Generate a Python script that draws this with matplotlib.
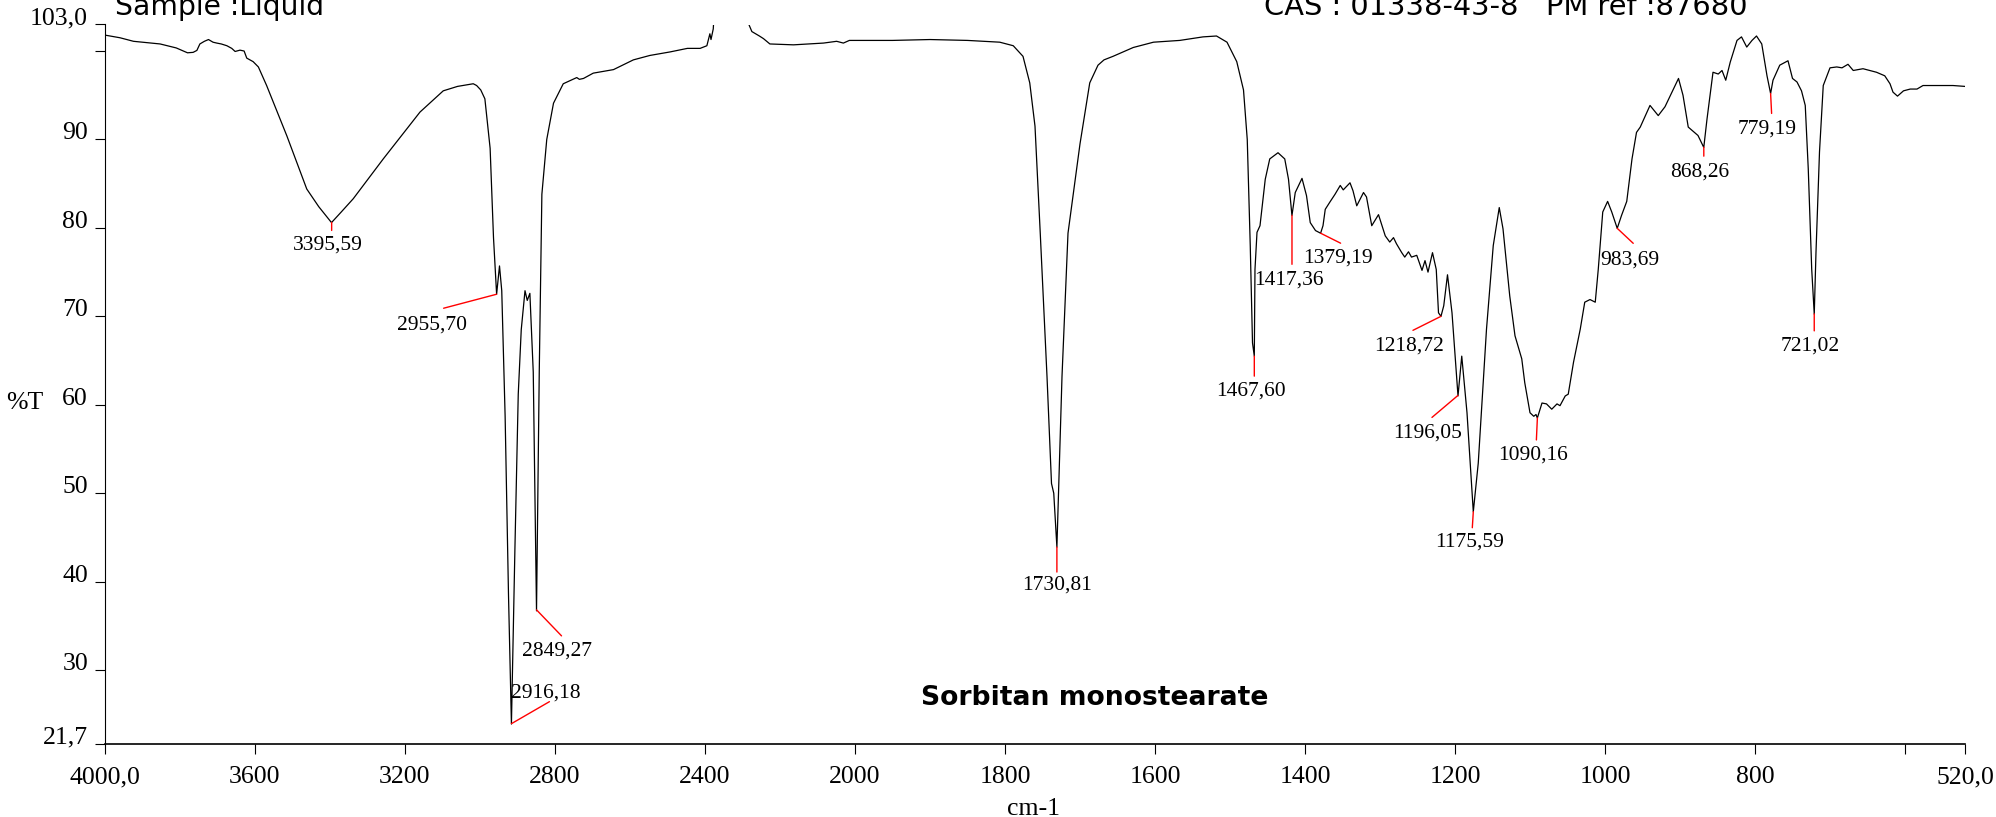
import numpy as np
import matplotlib
matplotlib.use('Agg')
import matplotlib.pyplot as plt

# FTIR spectrum of sorbitan monostearate
wavenumber = [
    4000, 3960, 3924, 3853, 3810, 3795, 3780, 3765, 3755, 3747, 3735, 3724,
    3712, 3702, 3690, 3675, 3662, 3653, 3640, 3629, 3622, 3605, 3591, 3569,
    3515, 3462, 3430, 3396, 3370, 3338, 3258, 3160, 3098, 3060, 3018, 3009,
    2998, 2987, 2973, 2964, 2955.7, 2948, 2942, 2933, 2924, 2916.2, 2907,
    2898, 2890, 2880, 2874, 2867, 2858, 2849.3, 2842, 2835, 2822, 2804, 2778,
    2742, 2735, 2724, 2698, 2644, 2591, 2547, 2493, 2447, 2413, 2395, 2387,
    2384, 2378, 2370, 2290, 2284, 2275, 2255, 2244, 2227, 2164, 2084, 2049,
    2031, 2015, 1950, 1900, 1850, 1807, 1789, 1776, 1767, 1760, 1753, 1744,
    1738, 1735, 1730.8, 1724, 1716, 1700, 1687, 1676, 1668, 1656, 1629, 1602,
    1567, 1536, 1518, 1504, 1491, 1482, 1477, 1473, 1470, 1467.6, 1466.7,
    1464, 1460, 1453, 1447, 1436, 1427, 1422, 1417.4, 1413, 1404, 1398, 1393,
    1386, 1379.2, 1376, 1373, 1367, 1360, 1353, 1349, 1340, 1336, 1331, 1322,
    1318, 1311, 1302, 1293, 1287, 1282, 1278, 1271, 1267, 1262, 1258, 1251,
    1244, 1240, 1236, 1230, 1225, 1222, 1218.7, 1215, 1210, 1204, 1196, 1191,
    1184, 1175.6, 1169, 1158, 1149, 1141, 1136, 1127, 1120, 1111, 1107, 1100,
    1095, 1092, 1090.2, 1084, 1078, 1071, 1064, 1060, 1053, 1049, 1042, 1033,
    1027, 1020, 1013, 1009, 1003, 996.5, 991, 983.7, 978, 971, 964, 958, 953,
    940, 929, 920, 902, 896, 889, 876, 868.3, 864, 856, 849, 844, 839, 833,
    824, 818, 811, 804, 798, 791, 784, 779.2, 776, 767, 756, 750, 744, 738,
    733, 729, 724.4, 721, 718.7, 714, 709, 700, 691, 684, 676, 669, 656, 638,
    627, 620, 616, 610, 602, 593, 584, 576, 562, 536, 520,
]
transmittance = [
    101.8, 101.5, 101.1, 100.8, 100.35, 100.07, 99.8, 99.85, 100.07, 100.8,
    101.1, 101.3, 101.0, 100.9, 100.8, 100.6, 100.3, 99.95, 100.1, 100.0,
    99.2, 98.8, 98.2, 96.1, 90.4, 84.4, 82.4, 80.6, 81.8, 83.3, 87.8, 93.1,
    95.5, 96.0, 96.3, 96.1, 95.6, 94.6, 89.0, 78.9, 72.5, 75.7, 72.9, 58.7,
    38.5, 23.9, 43.5, 61.2, 68.5, 72.9, 71.8, 72.6, 63.7, 36.7, 63.7, 83.8,
    90.0, 94.1, 96.3, 97.0, 96.8, 96.9, 97.5, 97.9, 99.0, 99.5, 99.9, 100.3,
    100.3, 100.6, 101.95, 101.3, 102.5, 108.0, 108.0, 103.1, 102.2, 101.7,
    101.4, 100.8, 100.7, 100.9, 101.1, 100.9, 101.2, 101.2, 101.3, 101.2,
    101.0, 100.6, 99.4, 96.4, 91.5, 79.4, 63.2, 51.1, 50.0, 43.9, 63.2, 79.4,
    89.5, 96.4, 98.4, 99.0, 99.4, 100.4, 101.0, 101.2, 101.6, 101.7, 101.0,
    98.8, 95.6, 90.0, 78.0, 67.0, 65.5, 75.3, 79.5, 80.25, 85.5, 87.8, 88.5,
    87.8, 85.5, 81.4, 84.0, 85.6, 83.65, 80.6, 79.7, 79.4, 80.25, 82.1, 82.9,
    83.8, 84.8, 84.3, 85.1, 84.2, 82.5, 84.0, 83.5, 80.25, 81.5, 79.1, 78.4,
    78.9, 78.2, 77.2, 76.7, 77.3, 76.7, 76.9, 75.2, 76.3, 75.0, 77.2, 75.3,
    70.4, 70.0, 71.2, 74.7, 70.4, 61.0, 65.5, 59.1, 47.9, 53.4, 68.55, 78.0,
    82.3, 79.9, 72.3, 67.8, 65.2, 62.5, 59.1, 58.7, 58.9, 58.5, 60.2, 60.1,
    59.5, 60.1, 59.9, 61.0, 61.2, 64.8, 68.55, 71.6, 71.9, 71.6, 75.3, 81.8,
    83.0, 81.8, 79.95, 81.4, 83.0, 87.8, 90.8, 91.4, 93.85, 92.7, 93.7, 96.9,
    95.0, 91.4, 90.45, 89.1, 92.3, 97.6, 97.4, 97.8, 96.7, 98.75, 101.2,
    101.6, 100.45, 101.2, 101.7, 100.8, 97.2, 95.2, 96.7, 98.4, 98.9, 96.9,
    96.5, 95.5, 93.85, 86.7, 75.35, 70.25, 77.2, 88.6, 96.1, 98.1, 98.2, 98.1,
    98.5, 97.8, 98.0, 97.6, 97.2, 96.3, 95.35, 94.9, 95.5, 95.7, 95.7, 96.1,
    96.1, 96.1, 96.0,
]

# labelled peaks
peak_wavenumbers = [3395.59, 2955.70, 2916.18, 2849.27, 1730.81, 1467.60,
                    1417.36, 1379.19, 1218.72, 1196.05, 1175.59, 1090.16,
                    983.69, 868.26, 779.19, 721.02]
peak_labels = ['3395,59', '2955,70', '2916,18', '2849,27', '1730,81',
               '1467,60', '1417,36', '1379,19', '1218,72', '1196,05',
               '1175,59', '1090,16', '983,69', '868,26', '779,19', '721,02']

x_ticks = [4000, 3600, 3200, 2800, 2400, 2000, 1800, 1600, 1400, 1200,
           1000, 800, 600, 520]
x_tick_labels = ['4000,0', '3600', '3200', '2800', '2400', '2000', '1800',
                 '1600', '1400', '1200', '1000', '800', '', '520,0']
y_ticks = [103.0, 100, 90, 80, 70, 60, 50, 40, 30, 21.7]
y_tick_labels = ['103,0', '', '90', '80', '70', '60', '50', '40', '30', '21,7']

# label layout: red line end (dx, dy) and label baseline (dx, dy), in pixels
label_offsets = [
    (0, -8, -4, -27), (-53, -14, -65, -35), (38, 22, 34, 26),
    (25, -26, 20, -46), (0, -25, 0, -43), (0, -20, -3, -39),
    (0, -49, -3, -69), (20, -10, 17, -29), (-28, -14, -32, -34),
    (-26, -22, -30, -42), (-1, -16, -4, -35), (-1, -22, -4, -42),
    (16, -15, 13, -36), (0, -9, -4, -29), (1, -20, -3, -40),
    (0, -17, -4, -37),
]

serif = 'Liberation Serif'


# wavenumber axis is compressed by 2 above 2000 cm-1
def fwd(x):
    x = np.asarray(x, dtype=float)
    return np.where(x > 2000, 2000 + (x - 2000) / 2.0, x)


def inv(u):
    u = np.asarray(u, dtype=float)
    return np.where(u > 2000, 2000 + (u - 2000) * 2.0, u)


fig = plt.figure(figsize=(19.96, 8.17), dpi=100)
ax = fig.add_axes([105 / 1996, 1 - 743.5 / 817, 1860 / 1996, 719 / 817])

ax.plot(wavenumber, transmittance, color='black', lw=0.9)

ax.set_xscale('function', functions=(fwd, inv))
ax.set_xlim(4000, 520)
ax.set_ylim(21.7, 103.0)

ax.set_xticks(x_ticks)
ax.set_xticklabels(x_tick_labels)
ax.set_yticks(y_ticks)
ax.set_yticklabels(y_tick_labels)
ax.minorticks_off()
ax.tick_params(axis='both', direction='out', length=7.2, width=0.8,
               labelsize=18.5, color='black')
ax.tick_params(axis='x', pad=9)
ax.tick_params(axis='y', pad=5)
for lab in ax.get_xticklabels() + ax.get_yticklabels():
    lab.set_fontfamily(serif)
for lab in ax.get_yticklabels():
    lab.set_verticalalignment('baseline')

for side in ['top', 'right']:
    ax.spines[side].set_visible(False)
ax.spines['left'].set_linewidth(0.8)
ax.spines['bottom'].set_linewidth(1.2)

wn_inc = np.array(wavenumber)[::-1]
t_inc = np.array(transmittance)[::-1]
for w, lab, off in zip(peak_wavenumbers, peak_labels, label_offsets):
    t = np.interp(w, wn_inc, t_inc)
    ax.annotate('', xy=(w, t), xytext=(off[0], off[1]),
                textcoords='offset pixels',
                arrowprops=dict(arrowstyle='-', color='red', lw=1.0,
                                shrinkA=0, shrinkB=0))
    ax.annotate(lab, xy=(w, t), xytext=(off[2], off[3]),
                textcoords='offset pixels', ha='center', va='baseline',
                fontsize=15.5, family=serif)

ax.text(0.532, 0.053, 'Sorbitan monostearate', transform=ax.transAxes,
        ha='center', va='baseline', fontsize=19.2, fontweight='bold')

fig.text(6 / 1996, 1 - 409 / 817, '%T', ha='left', va='baseline',
         fontsize=18.5, family=serif)
fig.text(1034 / 1996, 1 - 815 / 817, 'cm-1', ha='center', va='baseline',
         fontsize=18.5, family=serif)
# header texts run off the top edge, as in the original printout
fig.text(115 / 1996, 1 - 15 / 817, 'Sample :Liquid', ha='left',
         va='baseline', fontsize=20.3)
fig.text(1264 / 1996, 1 - 15 / 817, 'CAS : 01338-43-8   PM ref :87680',
         ha='left', va='baseline', fontsize=20.8)

fig.savefig('out.png', dpi=100, facecolor='white')
